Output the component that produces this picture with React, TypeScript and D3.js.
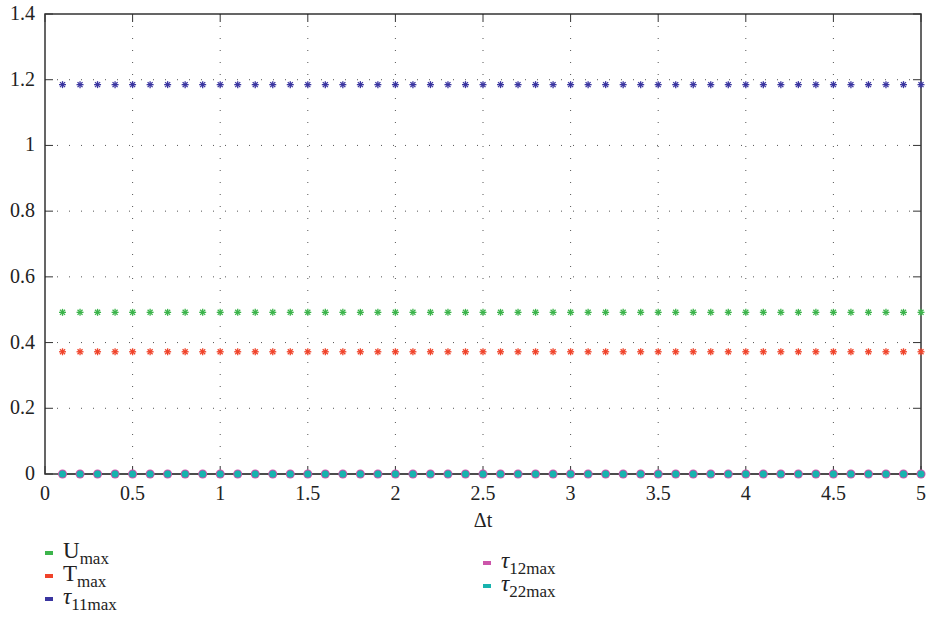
import React from "react";
import * as d3 from "d3";

const dtValues = [0.1,0.2,0.3,0.4,0.5,0.6,0.7,0.8,0.9,1.0,1.1,1.2,1.3,1.4,1.5,1.6,1.7,1.8,1.9,2.0,2.1,2.2,2.3,2.4,2.5,2.6,2.7,2.8,2.9,3.0,3.1,3.2,3.3,3.4,3.5,3.6,3.7,3.8,3.9,4.0,4.1,4.2,4.3,4.4,4.5,4.6,4.7,4.8,4.9,5.0];
const uMax = dtValues.map(() => 0.492);
const tMax = dtValues.map(() => 0.372);
const tau11Max = dtValues.map(() => 1.185);
const tau12Max = dtValues.map(() => 0);
const tau22Max = dtValues.map(() => 0);
const xTicks = [0, 0.5, 1, 1.5, 2, 2.5, 3, 3.5, 4, 4.5, 5];
const yTicks = [0, 0.2, 0.4, 0.6, 0.8, 1, 1.2, 1.4];

const FONT = "Liberation Serif, Times New Roman, DejaVu Serif, serif";

const W = 928, H = 629;
const L = 45, R = 921, T = 14, B = 474;

function Star({ x, y, color }: { x: number; y: number; color: string }) {
  const s = 3.5;
  const d = s * 0.72;
  return (
    <g stroke={color} strokeWidth={1.3}>
      <line x1={x - s} y1={y} x2={x + s} y2={y} />
      <line x1={x} y1={y - s} x2={x} y2={y + s} />
      <line x1={x - d} y1={y - d} x2={x + d} y2={y + d} />
      <line x1={x - d} y1={y + d} x2={x + d} y2={y - d} />
    </g>
  );
}

export default function App() {
  const x = d3.scaleLinear().domain([0, 5]).range([L, R]);
  const y = d3.scaleLinear().domain([0, 1.4]).range([B, T]);

  const starSeries = [
    { data: uMax, color: "#3cb44b" },
    { data: tMax, color: "#f0432a" },
    { data: tau11Max, color: "#3a35a0" },
  ];
  const line = d3.line<number>().x((_, i) => x(dtValues[i])).y((v) => y(v));
  const ts = { fontFamily: FONT };

  return (
    <svg width={W} height={H} style={{ position: "absolute", left: 0, top: 0, fontFamily: FONT }}>
      <rect x={0} y={0} width={W} height={H} fill="#fff" />
      {xTicks.slice(1, -1).map((t) => (
        <line key={"gx" + t} x1={x(t)} x2={x(t)} y1={T} y2={B} stroke="#555" strokeWidth={1} strokeDasharray="1,11" />
      ))}
      {yTicks.slice(1, -1).map((t) => (
        <line key={"gy" + t} x1={L} x2={R} y1={y(t)} y2={y(t)} stroke="#555" strokeWidth={1} strokeDasharray="1,11" />
      ))}
      {xTicks.map((t) => (
        <g key={"tx" + t}>
          <line x1={x(t)} x2={x(t)} y1={B} y2={B - 8} stroke="#333" />
          <line x1={x(t)} x2={x(t)} y1={T} y2={T + 8} stroke="#333" />
          <text x={x(t)} y={B + 26} textAnchor="middle" fontSize={20} fill="#222" style={ts}>{String(t)}</text>
        </g>
      ))}
      {yTicks.map((t) => (
        <g key={"ty" + t}>
          <line x1={L} x2={L + 8} y1={y(t)} y2={y(t)} stroke="#333" />
          <line x1={R} x2={R - 8} y1={y(t)} y2={y(t)} stroke="#333" />
          <text x={L - 10} y={y(t) + 6} textAnchor="end" fontSize={20} fill="#222" style={ts}>{String(t)}</text>
        </g>
      ))}
      <rect x={L} y={T} width={R - L} height={B - T} fill="none" stroke="#333" strokeWidth={1.5} />
      <path d={line(tau12Max) || ""} fill="none" stroke="#444" strokeWidth={1.5} />
      {starSeries.map((s, si) => (
        <g key={si}>
          {s.data.map((v, i) => (
            <Star key={i} x={x(dtValues[i])} y={y(v)} color={s.color} />
          ))}
        </g>
      ))}
      {tau12Max.map((v, i) => (
        <circle key={"c12" + i} cx={x(dtValues[i])} cy={y(v)} r={4.5} fill="#cc55aa" />
      ))}
      {tau22Max.map((v, i) => (
        <circle key={"c22" + i} cx={x(dtValues[i])} cy={y(v)} r={3.5} fill="#17b3ae" />
      ))}
      <text x={(L + R) / 2} y={527} textAnchor="middle" fontSize={20} fill="#222" style={ts}>Δt</text>
      {[
        { c: "#3cb44b", sym: "U", sub: "max", x: 45, y: 555, italic: false },
        { c: "#f0432a", sym: "T", sub: "max", x: 45, y: 578, italic: false },
        { c: "#3a35a0", sym: "τ", sub: "11max", x: 45, y: 601, italic: true },
        { c: "#cc55aa", sym: "τ", sub: "12max", x: 483, y: 565, italic: true },
        { c: "#17b3ae", sym: "τ", sub: "22max", x: 483, y: 588, italic: true },
      ].map((e, i) => (
        <g key={"lg" + i}>
          <rect x={e.x} y={e.y - 4} width={8} height={4} fill={e.c} />
          <text x={e.x + 18} y={e.y + 3} fontSize={23} fill="#222" style={ts}>
            <tspan fontStyle={e.italic ? "italic" : "normal"}>{e.sym}</tspan>
            <tspan dy={6} fontSize={17}>{e.sub}</tspan>
          </text>
        </g>
      ))}
    </svg>
  );
}
